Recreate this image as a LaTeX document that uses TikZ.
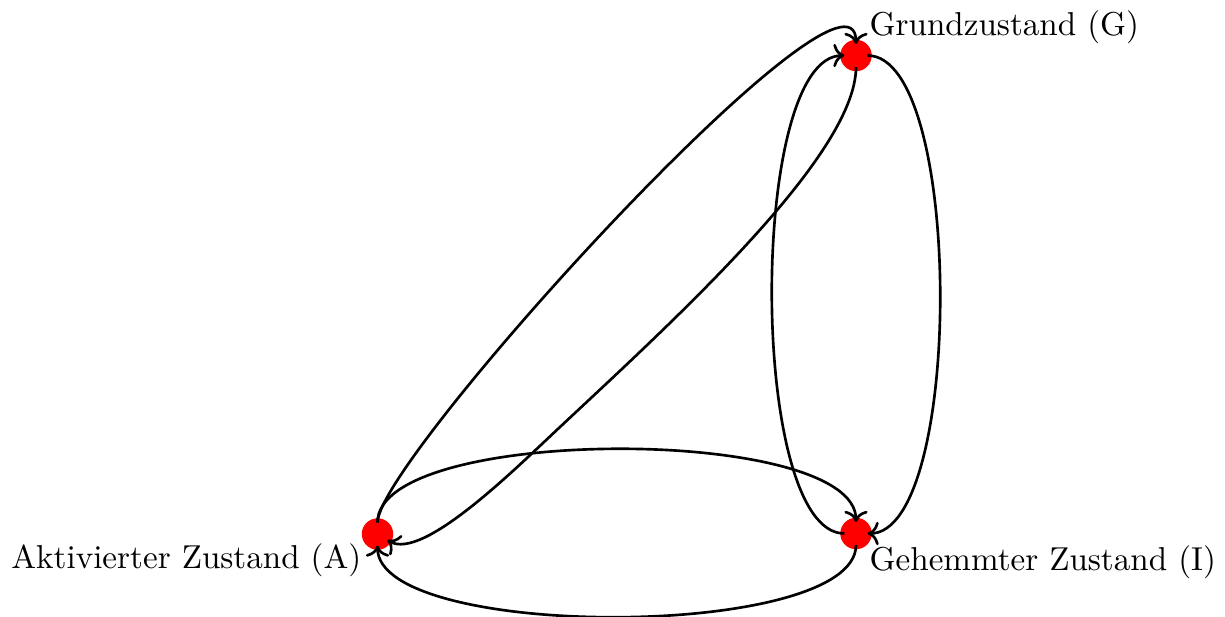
\documentclass[tikz,border=0pt]{standalone}
\usetikzlibrary{arrows.meta}
\begin{document}
\begin{tikzpicture}[x=0.302pt,y=-0.302pt,
  state/.style={circle,inner sep=0pt,minimum size=6.6pt},
  edge/.style={thick,->},
  lbl/.style={inner sep=0pt,font=\fontsize{10}{12}\selectfont}]
\useasboundingbox (0,0) rectangle (1225,616);
\node[state] (G) at (856,55.5) {};
\node[state] (A) at (377.5,534) {};
\node[state] (I) at (856,533.5) {};
\fill[red] (G) circle (4.75pt);
\fill[red] (A) circle (4.75pt);
\fill[red] (I) circle (4.75pt);
\coordinate (m) at (560,427);
% A -> G
\draw[edge] (A) .. controls +(0,-75) and +(0,-122) .. (G);
% G -> A
\draw[edge] (G) .. controls +(0,100) and (672,322) .. (m) .. controls (516,468) and +(45,27.5) .. (A);
% A -> I
\draw[edge] (A) .. controls +(0,-109) and +(0,-109) .. (I);
% I -> A
\draw[edge] (I) .. controls +(0,107) and +(0,107) .. (A);
% G -> I
\draw[edge] (G) .. controls +(108,0) and +(108,0) .. (I);
% I -> G
\draw[edge] (I) .. controls +(-108,0) and +(-108,0) .. (G);
\node[lbl,anchor=base west] (gl) at (869,35) {Grundzustand (G)};
\node[lbl,anchor=base east] (al) at (362,568) {Aktivierter Zustand (A)};
\node[lbl,anchor=base west] (il) at (869,570) {Gehemmter Zustand (I)};
\end{tikzpicture}
\end{document}
